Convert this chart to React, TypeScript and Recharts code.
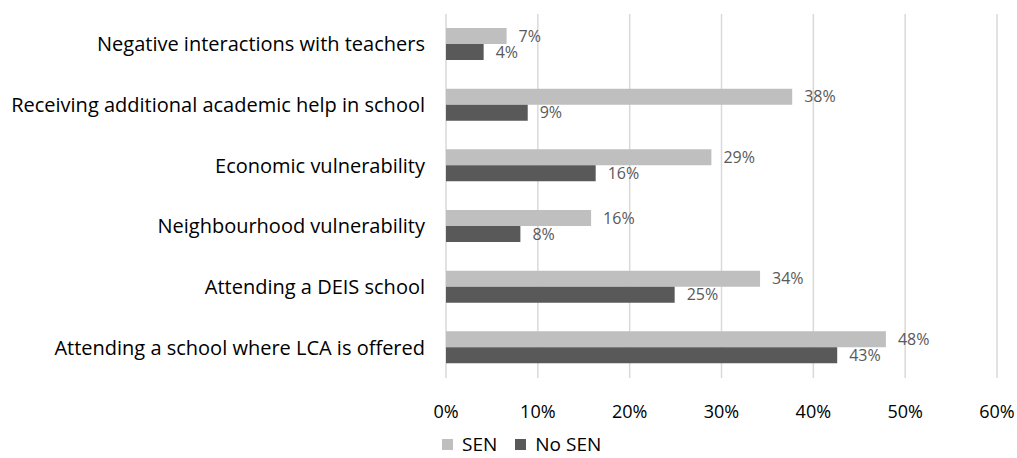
import React from 'react';
import { BarChart, Bar, XAxis, YAxis, CartesianGrid, Legend, LabelList } from 'recharts';

const categories = [
  'Negative interactions with teachers',
  'Receiving additional academic help in school',
  'Economic vulnerability',
  'Neighbourhood vulnerability',
  'Attending a DEIS school',
  'Attending a school where LCA is offered',
];
const senValues = [6.6, 37.7, 28.9, 15.8, 34.2, 47.9];
const noSenValues = [4.1, 8.9, 16.3, 8.1, 24.9, 42.6];
const xTicks = [0, 10, 20, 30, 40, 50, 60];
const seriesNames = ['SEN', 'No SEN'];
const seriesColors = ['#BFBFBF', '#595959'];

const data = categories.map((c, i) => ({ name: c, sen: senValues[i], nosen: noSenValues[i] }));

const FONT = '"Open Sans", sans-serif';

const renderLegend = () => (
  <div style={{ display: 'flex', alignItems: 'center', height: 20, fontFamily: FONT, fontSize: 19, color: '#000' }}>
    {seriesNames.map((n, i) => (
      <div key={n} style={{ display: 'flex', alignItems: 'center', marginRight: 18 }}>
        <span style={{ display: 'inline-block', width: 11, height: 11, background: seriesColors[i], marginRight: 9 }} />
        <span style={{ lineHeight: '20px' }}>{n}</span>
      </div>
    ))}
  </div>
);

const fmt = (v: any) => `${Math.round(Number(v))}%`;

export default function App() {
  return (
    <div style={{ position: 'absolute', left: 0, top: 0, width: 1017, height: 458, background: '#fff', overflow: 'hidden' }}>
      <BarChart
        width={1017}
        height={458}
        data={data}
        layout="vertical"
        margin={{ top: 14, right: 20, bottom: 40, left: 0 }}
        barSize={16}
        barGap={0}
        style={{ fontFamily: FONT }}
      >
        <CartesianGrid horizontal={false} vertical={true} stroke="#D9D9D9" strokeWidth={1.5} />
        <XAxis
          type="number"
          domain={[0, 60]}
          ticks={xTicks}
          tickFormatter={(v: number) => `${v}%`}
          axisLine={false}
          tickLine={false}
          tickSize={0}
          tickMargin={27}
          height={40}
          interval={0}
          tick={{ fill: '#000', fontSize: 18, fontFamily: FONT }}
        />
        <YAxis
          type="category"
          dataKey="name"
          width={446}
          axisLine={false}
          tickLine={false}
          tickSize={0}
          tickMargin={21}
          interval={0}
          tick={{ fill: '#000', fontSize: 20, fontFamily: FONT }}
        />
        <Legend
          layout="horizontal"
          verticalAlign="middle"
          align="center"
          wrapperStyle={{ left: 442, top: 434, width: 'auto' }}
          content={renderLegend}
        />
        <Bar dataKey="sen" name={seriesNames[0]} fill={seriesColors[0]} isAnimationActive={false}>
          <LabelList dataKey="sen" position="right" offset={12} formatter={fmt} fill="#595959" fontSize={16} fontFamily={FONT} />
        </Bar>
        <Bar dataKey="nosen" name={seriesNames[1]} fill={seriesColors[1]} isAnimationActive={false}>
          <LabelList dataKey="nosen" position="right" offset={12} formatter={fmt} fill="#595959" fontSize={16} fontFamily={FONT} />
        </Bar>
      </BarChart>
    </div>
  );
}
